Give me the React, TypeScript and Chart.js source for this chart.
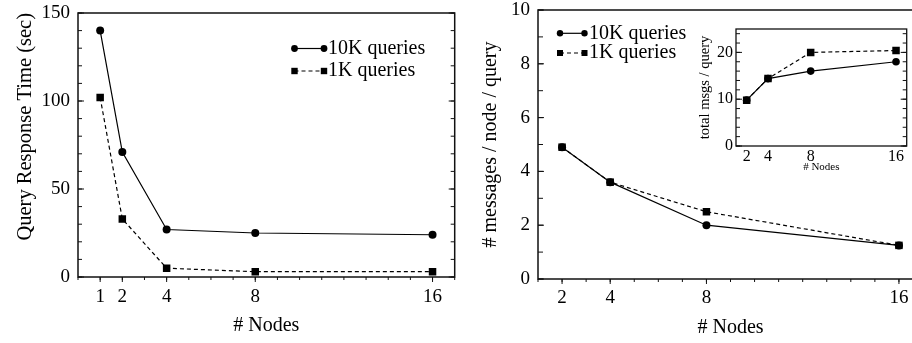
import React, { useEffect, useRef } from "react";
import { Chart, registerables } from "chart.js";
Chart.register(...registerables);

// ---------- data ----------
const seriesLabels = ["10K queries", "1K queries"];
const nodesLeft = [1, 2, 4, 8, 16];
const respTime10K = [140, 71, 27, 25, 24];
const respTime1K = [102, 33, 5, 3, 3];
const nodesRight = [2, 4, 8, 16];
const msgsPerNode10K = [4.9, 3.6, 2.0, 1.25];
const msgsPerNode1K = [4.9, 3.6, 2.5, 1.25];
const totalMsgs10K = [9.8, 14.4, 16, 18];
const totalMsgs1K = [9.8, 14.4, 20, 20.4];
const leftYTicks = [0, 50, 100, 150];
const rightYTicks = [0, 2, 4, 6, 8, 10];
const insetYTicks = [0, 10, 20];
const leftXTicks = [1, 2, 4, 8, 16];
const rightXTicks = [2, 4, 8, 16];

const FONT = "'Liberation Serif', 'Times New Roman', serif";
const range = (a: number, b: number, s: number) => {
  const out: number[] = [];
  for (let v = a; v <= b + 1e-9; v += s) out.push(v);
  return out;
};

const pts = (xs: number[], ys: number[]) => xs.map((x, i) => ({ x, y: ys[i] }));

const framePlugin = {
  id: "frame",
  beforeDatasetsDraw(chart: any, _a: any, o: any) {
    const { ctx, chartArea: a, scales } = chart;
    const xs = scales.x, ys = scales.y;
    ctx.save();
    ctx.strokeStyle = "#111";
    ctx.lineWidth = o.frameWidth || 1.5;
    ctx.strokeRect(a.left, a.top, a.right - a.left, a.bottom - a.top);
    ctx.lineWidth = 1;
    ctx.beginPath();
    const yt = (vals: number[], len: number) => {
      for (const v of vals) {
        const p = ys.getPixelForValue(v);
        ctx.moveTo(a.left, p); ctx.lineTo(a.left + len, p);
        ctx.moveTo(a.right, p); ctx.lineTo(a.right - len, p);
      }
    };
    const xt = (vals: number[], len: number) => {
      for (const v of vals) {
        const p = xs.getPixelForValue(v);
        ctx.moveTo(p, a.bottom); ctx.lineTo(p, a.bottom + len);
      }
    };
    yt(o.yMinor || [], o.yMinorLen || 4);
    yt(o.yMajor || [], o.yMajorLen || 6);
    xt(o.xMinor || [], o.xMinorLen || 3);
    xt(o.xMajor || [], o.xMajorLen || 5);
    ctx.stroke();
    ctx.restore();
  },
  afterDraw(chart: any, _a: any, o: any) {
    const L = o.legend;
    if (!L) return;
    const { ctx } = chart;
    ctx.save();
    chart.data.datasets.forEach((ds: any, i: number) => {
      const y = L.rows[i];
      ctx.strokeStyle = "#000";
      ctx.lineWidth = 1.2;
      ctx.setLineDash(ds.borderDash || []);
      ctx.beginPath();
      ctx.moveTo(L.x1, y); ctx.lineTo(L.x2, y);
      ctx.stroke();
      ctx.setLineDash([]);
      ctx.fillStyle = "#000";
      for (const x of [L.x1, L.x2]) {
        ctx.beginPath();
        if (ds.pointStyle === "rect") {
          ctx.rect(x - L.r, y - L.r, 2 * L.r, 2 * L.r);
        } else {
          ctx.arc(x, y, L.r + 0.2, 0, Math.PI * 2);
        }
        ctx.fill();
      }
      ctx.font = `${L.size}px ${FONT}`;
      ctx.textAlign = "left";
      ctx.textBaseline = "middle";
      ctx.fillText(ds.label, L.tx, y);
    });
    ctx.restore();
  },
};

function makeDatasets(xs: number[], a: number[], b: number[], rc: number, rs: number) {
  return [
    {
      label: seriesLabels[0],
      data: pts(xs, a),
      borderColor: "#000",
      backgroundColor: "#000",
      borderWidth: 1.2,
      pointStyle: "circle",
      pointRadius: rc,
      pointBorderWidth: 0,
      tension: 0,
    },
    {
      label: seriesLabels[1],
      data: pts(xs, b),
      borderColor: "#000",
      backgroundColor: "#000",
      borderWidth: 1.2,
      borderDash: [4, 3],
      pointStyle: "rect",
      pointRadius: rs,
      pointBorderWidth: 0,
      tension: 0,
    },
  ];
}

function makeConfig(p: any) {
  return {
    type: "line",
    data: { datasets: makeDatasets(p.xs, p.a, p.b, p.rc, p.rs) },
    plugins: [framePlugin],
    options: {
      animation: false,
      responsive: false,
      devicePixelRatio: 1,
      layout: { padding: p.pad },
      plugins: {
        legend: { display: false },
        tooltip: { enabled: false },
        frame: p.frame,
      },
      scales: {
        x: {
          type: "linear",
          min: p.xMin,
          max: p.xMax,
          afterBuildTicks: (s: any) => { s.ticks = p.xTicks.map((v: number) => ({ value: v })); },
          afterFit: (s: any) => { s.height = p.xHeight; s.paddingLeft = 0; s.paddingRight = 0; },
          grid: { display: false, drawTicks: false },
          border: { display: false },
          ticks: {
            color: "#000",
            font: { family: FONT, size: p.tickSize },
            padding: p.xTickPad,
            maxRotation: 0,
            autoSkip: false,
            callback: (v: any) => String(v),
          },
          title: {
            display: true,
            text: "# Nodes",
            color: "#000",
            font: { family: FONT, size: p.xTitleSize },
            padding: { top: 0, bottom: p.xTitlePad },
          },
        },
        y: {
          type: "linear",
          min: p.yMin,
          max: p.yMax,
          afterBuildTicks: (s: any) => { s.ticks = p.yTicks.map((v: number) => ({ value: v })); },
          afterFit: (s: any) => { s.width = p.yWidth; s.paddingTop = 0; s.paddingBottom = 0; },
          grid: { display: false, drawTicks: false },
          border: { display: false },
          ticks: {
            color: "#000",
            font: { family: FONT, size: p.tickSize },
            padding: p.yTickPad,
            autoSkip: false,
            callback: (v: any) => String(v),
          },
          title: {
            display: true,
            text: p.yTitle,
            align: p.yTitleAlign || "center",
            color: "#000",
            font: { family: FONT, size: p.yTitleSize },
            padding: { top: p.yTitlePad, bottom: 0 },
          },
        },
      },
    },
  };
}

const leftParams = {
  xs: nodesLeft, a: respTime10K, b: respTime1K, rc: 4, rs: 5.3,
  pad: { top: 13, right: 4, left: 0, bottom: 0 },
  xMin: 0, xMax: 17, xTicks: leftXTicks, xHeight: 66, xTickPad: 9, xTitlePad: 5, xTitleSize: 20,
  yMin: 0, yMax: 150, yTicks: leftYTicks, yWidth: 78, yTickPad: 8,
  yTitle: "Query Response Time (sec)", yTitleAlign: "end", yTitleSize: 20.5, yTitlePad: 13.5,
  tickSize: 19,
  frame: {
    yMajor: leftYTicks, yMinor: range(0, 150, 10), yMajorLen: 6, yMinorLen: 4,
    xMajor: leftXTicks, xMinor: range(0, 17, 1), xMajorLen: 5, xMinorLen: 3,
    legend: { x1: 294.5, x2: 324, tx: 328, rows: [48.5, 71], r: 3.2, size: 20 },
  },
};

const rightParams = {
  xs: nodesRight, a: msgsPerNode10K, b: msgsPerNode1K, rc: 4, rs: 5.3,
  pad: { top: 10, right: 17, left: 0, bottom: 0 },
  xMin: 1, xMax: 17, xTicks: rightXTicks, xHeight: 64, xTickPad: 8, xTitlePad: 3, xTitleSize: 20,
  yMin: 0, yMax: 10, yTicks: rightYTicks, yWidth: 78, yTickPad: 8,
  yTitle: "# messages / node / query", yTitleSize: 20, yTitlePad: 18.5,
  tickSize: 19,
  frame: {
    yMajor: rightYTicks, yMinor: range(0, 10, 1), yMajorLen: 6, yMinorLen: 5,
    xMajor: rightXTicks, xMinor: range(1, 17, 1), xMajorLen: 5, xMinorLen: 3,
    // positions relative to this canvas (its left edge sits at 460)
    legend: { x1: 100, x2: 124.5, tx: 129, rows: [33.3, 53], r: 3, size: 20 },
  },
};

const insetParams = {
  xs: nodesRight, a: totalMsgs10K, b: totalMsgs1K, rc: 3.8, rs: 5.3,
  pad: { top: 11, right: 4, left: 0, bottom: 0 },
  xMin: 1, xMax: 17, xTicks: rightXTicks, xHeight: 29, xTickPad: 1, xTitlePad: 1.6, xTitleSize: 11,
  yMin: 0, yMax: 25, yTicks: insetYTicks, yWidth: 46, yTickPad: 3,
  yTitle: "total msgs / query", yTitleSize: 14.5, yTitlePad: 6.6,
  tickSize: 16,
  frame: {
    frameWidth: 1.3,
    yMajor: insetYTicks, yMinor: range(0, 24, 2), yMajorLen: 6, yMinorLen: 4,
    xMajor: [], xMinor: [], xMajorLen: 0, xMinorLen: 0,
  },
};

function ChartCanvas(props: { params: any; left: number; top: number; width: number; height: number }) {
  const ref = useRef<HTMLCanvasElement | null>(null);
  useEffect(() => {
    if (!ref.current) return;
    const chart = new Chart(ref.current, makeConfig(props.params) as any);
    return () => chart.destroy();
  }, []);
  return (
    <canvas
      ref={ref}
      width={props.width}
      height={props.height}
      style={{ position: "absolute", left: props.left, top: props.top, width: props.width, height: props.height }}
    />
  );
}

export default function App() {
  return (
    <div
      style={{
        position: "fixed",
        left: 0,
        top: 0,
        width: 912,
        height: 343,
        overflow: "hidden",
        background: "#fff",
      }}
    >
      <ChartCanvas params={leftParams} left={0} top={0} width={460} height={343} />
      <ChartCanvas params={rightParams} left={460} top={0} width={480} height={343} />
      <ChartCanvas params={insetParams} left={690} top={18} width={222} height={157} />
    </div>
  );
}
